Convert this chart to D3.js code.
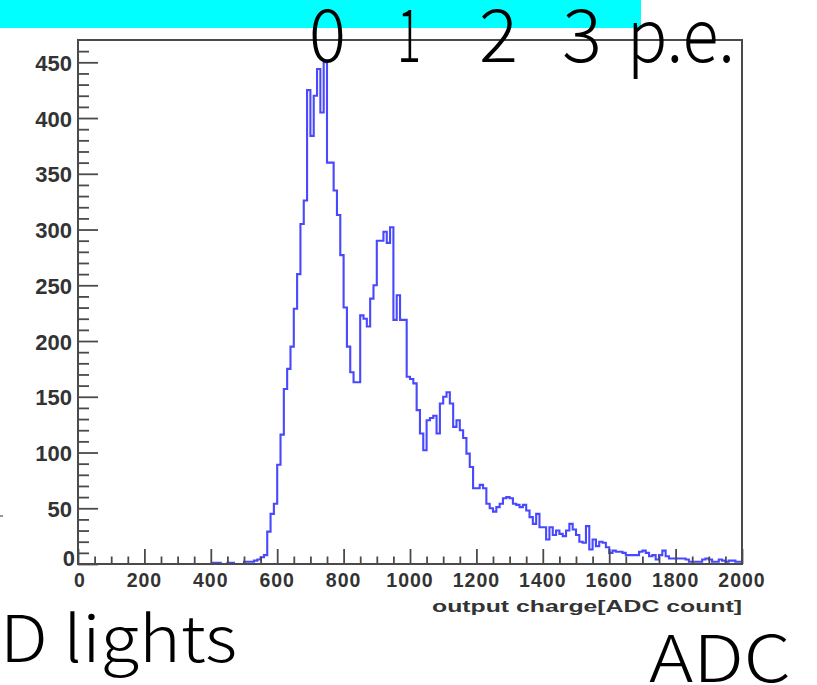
<!DOCTYPE html>
<html>
<head>
<meta charset="utf-8">
<script src="https://cdn.jsdelivr.net/npm/d3@7"></script>
<style>
  body { margin: 0; background: #fff; }
  svg { display: block; }
</style>
</head>
<body>
<div id="container"></div>
<script>
var w = 817,
    h = 685;

// histogram: 10 ADC wide bins, first bin starts at 400
var binWidth = 10;
var firstBin = 400;
var counts = [
    1, 1, 1, 0, 0, 1, 1, 0, 0, 0, 2, 2, 2, 3, 4, 6, 8,
    29, 45, 54, 89, 116, 157, 175, 195, 229, 260, 305, 326,
    425, 384, 420, 444, 405, 450, 360, 360,
    335, 313, 277, 230, 195, 172, 163, 163, 223, 220, 213, 238, 250, 290, 290, 298, 288, 302, 219, 241, 219, 219,
    168, 166, 162, 138, 117, 102, 129, 131, 133, 117, 144, 150, 154, 144, 123, 129, 120, 113, 99, 87,
    68, 68, 71, 68, 54, 50, 47, 51, 54, 59, 60, 59, 54, 53, 51, 53, 48, 42, 36, 45, 33, 33, 22, 33, 26,
    30, 27, 25, 30, 36, 31, 26, 20, 19, 34, 13, 22, 16, 20, 19, 15, 10, 12, 11, 11,
    10, 8, 8, 8, 8, 11, 12, 10, 7, 8, 4, 8, 12, 7, 5, 5, 5, 5, 5, 4,
    2, 2, 2, 2, 4, 5, 4, 2, 2, 4, 3, 2, 3, 3, 2, 2
];

var xDomain = [0, 2000];
var yDomain = [0, 470];
var xLabels = [0, 200, 400, 600, 800, 1000, 1200, 1400, 1600, 1800, 2000];
var yLabels = [0, 50, 100, 150, 200, 250, 300, 350, 400, 450];
var peLabels = ['0', '1', '2', '3', 'p.e.'];
var xTitle = 'output charge[ADC count]';

var frame = { left: 78, right: 742, top: 40, bottom: 564 };

var svg = d3.select('#container')
    .append('svg')
    .attr('width', w)
    .attr('height', h);

var x = d3.scaleLinear().domain(xDomain).range([frame.left, frame.right]);
var y = d3.scaleLinear().domain(yDomain).range([frame.bottom, frame.top]);

// cyan strip at the top
svg.append('rect')
    .attr('x', 0).attr('y', 0)
    .attr('width', 641).attr('height', 28)
    .attr('fill', '#00ffff');

// histogram outline
var pts = counts.map(function(c, i) {
    return [firstBin + i * binWidth, c];
});
pts.push([firstBin + counts.length * binWidth, counts[counts.length - 1]]);

var line = d3.line()
    .x(function(d) { return x(d[0]); })
    .y(function(d) { return y(d[1]); })
    .curve(d3.curveStepAfter);

svg.append('path')
    .datum(pts)
    .attr('d', line)
    .attr('fill', 'none')
    .attr('stroke', '#4848ff')
    .attr('stroke-width', 2.1)
    .attr('stroke-linejoin', 'miter');

// frame
svg.append('rect')
    .attr('x', frame.left).attr('y', frame.top)
    .attr('width', frame.right - frame.left)
    .attr('height', frame.bottom - frame.top)
    .attr('fill', 'none')
    .attr('stroke', '#4a4a4a')
    .attr('stroke-width', 2);

// y axis ticks (inside, pointing right)
var yAxis = d3.axisRight(y)
    .tickValues(d3.range(0, 461, 10))
    .tickSizeInner(0)
    .tickSizeOuter(0)
    .tickFormat('');
var gy = svg.append('g')
    .attr('transform', 'translate(' + frame.left + ',0)')
    .call(yAxis);
gy.select('.domain').remove();
gy.selectAll('.tick line')
    .attr('x2', function(d) { return d % 50 === 0 ? 20 : 11; })
    .attr('stroke', '#4a4a4a')
    .attr('stroke-width', 1.8);

// x axis ticks (inside, pointing up)
var xAxis = d3.axisTop(x)
    .tickValues(d3.range(0, 2001, 50))
    .tickSizeInner(0)
    .tickSizeOuter(0)
    .tickFormat('');
var gx = svg.append('g')
    .attr('transform', 'translate(0,' + frame.bottom + ')')
    .call(xAxis);
gx.select('.domain').remove();
gx.selectAll('.tick line')
    .attr('y2', function(d) { return d % 200 === 0 ? -15 : -7.5; })
    .attr('stroke', '#4a4a4a')
    .attr('stroke-width', 1.8);

// tick labels
svg.append('g')
    .selectAll('text')
    .data(yLabels)
    .enter()
    .append('text')
    .attr('x', function(d) { return d === 0 ? 75 : 72; })
    .attr('y', function(d) { return d === 0 ? y(d) - 6 : y(d) + 1; })
    .attr('dy', '0.35em')
    .attr('text-anchor', 'end')
    .attr('font-family', 'Liberation Sans, Arial, sans-serif')
    .attr('font-weight', 'bold')
    .attr('font-size', 22)
    .attr('fill', '#333')
    .text(function(d) { return d; });

svg.append('g')
    .selectAll('text')
    .data(xLabels)
    .enter()
    .append('text')
    .attr('x', function(d) { return d === 0 ? x(d) + 2 : x(d); })
    .attr('y', 587)
    .attr('text-anchor', 'middle')
    .attr('font-family', 'Liberation Sans, Arial, sans-serif')
    .attr('font-weight', 'bold')
    .attr('font-size', 19.5)
    .attr('letter-spacing', 1)
    .attr('fill', '#333')
    .text(function(d) { return d; });

svg.append('text')
    .attr('x', 432)
    .attr('y', 612)
    .attr('textLength', 310)
    .attr('lengthAdjust', 'spacingAndGlyphs')
    .attr('font-family', 'Liberation Sans, Arial, sans-serif')
    .attr('font-weight', 'bold')
    .attr('font-size', 17)
    .attr('fill', '#333')
    .text(xTitle);

// big annotation text
var bigFont = 'Noto Sans CJK JP, Noto Sans, sans-serif';
var peX = [309, 397, 479, 562, 627];
var peW = [37, 24, 39, 40, 108];
svg.append('g')
    .selectAll('text')
    .data(peLabels)
    .enter()
    .append('text')
    .attr('x', function(d, i) { return peX[i]; })
    .attr('y', 62)
    .attr('textLength', function(d, i) { return peW[i]; })
    .attr('lengthAdjust', 'spacingAndGlyphs')
    .attr('font-family', bigFont)
    .attr('font-weight', 300)
    .attr('font-size', 73)
    .attr('fill', '#000')
    .text(function(d) { return d; });

svg.append('text')
    .attr('x', 0)
    .attr('y', 662)
    .attr('textLength', 237)
    .attr('lengthAdjust', 'spacingAndGlyphs')
    .attr('font-family', bigFont)
    .attr('font-weight', 300)
    .attr('font-size', 64)
    .attr('fill', '#000')
    .text('D lights');

svg.append('text')
    .attr('x', 649)
    .attr('y', 682)
    .attr('textLength', 142)
    .attr('lengthAdjust', 'spacingAndGlyphs')
    .attr('font-family', bigFont)
    .attr('font-weight', 300)
    .attr('font-size', 65)
    .attr('fill', '#000')
    .text('ADC');

// small stray mark at the left edge
svg.append('line')
    .attr('x1', 0).attr('x2', 3)
    .attr('y1', 516).attr('y2', 516)
    .attr('stroke', '#333')
    .attr('stroke-width', 1);
</script>
</body>
</html>
